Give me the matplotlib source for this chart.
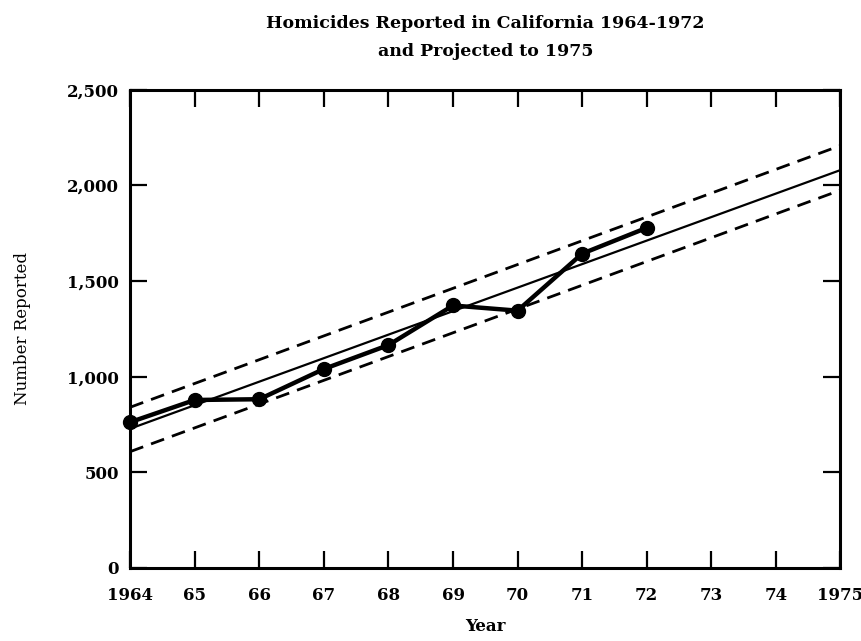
import matplotlib
matplotlib.use("Agg")
import matplotlib.pyplot as plt
from matplotlib.ticker import FuncFormatter

plt.rcParams['font.family'] = ['DejaVu Serif']
plt.rcParams['font.weight'] = 'bold'

# reported homicides 1964-1972
years = [1964, 1965, 1966, 1967, 1968, 1969, 1970, 1971, 1972]
reported = [762, 878, 882, 1040, 1165, 1372, 1345, 1643, 1778]

# fitted trend and band, projected to 1975 (end points)
proj_years = [1964, 1975]
trend = [728, 2080]
upper = [840, 2208]
lower = [608, 1975]

xtick_years = list(range(1964, 1976))
xtick_labels = ['1964', '65', '66', '67', '68', '69', '70', '71', '72', '73', '74', '1975']
ytick_vals = [0, 500, 1000, 1500, 2000, 2500]

fig = plt.figure(figsize=(8.62, 6.41), dpi=100)
ax = fig.add_axes([0.151, 0.114, 0.824, 0.746])

ax.plot(proj_years, trend, color='black', lw=1.6)
ax.plot(proj_years, upper, color='black', lw=2.0, dashes=(5, 3))
ax.plot(proj_years, lower, color='black', lw=2.0, dashes=(5, 3))
ax.plot(years, reported, color='black', lw=3.2, marker='o', markersize=10, clip_on=False, zorder=5)

ax.set_xlim(1964, 1975)
ax.set_ylim(0, 2500)
ax.set_xticks(xtick_years)
ax.set_xticklabels(xtick_labels)
ax.set_yticks(ytick_vals)
ax.yaxis.set_major_formatter(FuncFormatter(lambda v, p: f"{int(v):,}"))

for s in ax.spines.values():
    s.set_linewidth(2.2)
ax.tick_params(direction='in', length=12, width=1.6, top=True, right=True,
               labelsize=12)
ax.tick_params(axis='x', pad=14)
ax.tick_params(axis='y', pad=8)

ax.set_xlabel("Year", fontsize=12, fontweight='bold', labelpad=10)
ax.set_ylabel("Number Reported", fontsize=12, fontweight='normal', labelpad=26)
ax.set_title("Homicides Reported in California 1964-1972\nand Projected to 1975",
             fontsize=12.5, fontweight='bold', pad=24, linespacing=1.9)

fig.savefig("out.png", dpi=100)
